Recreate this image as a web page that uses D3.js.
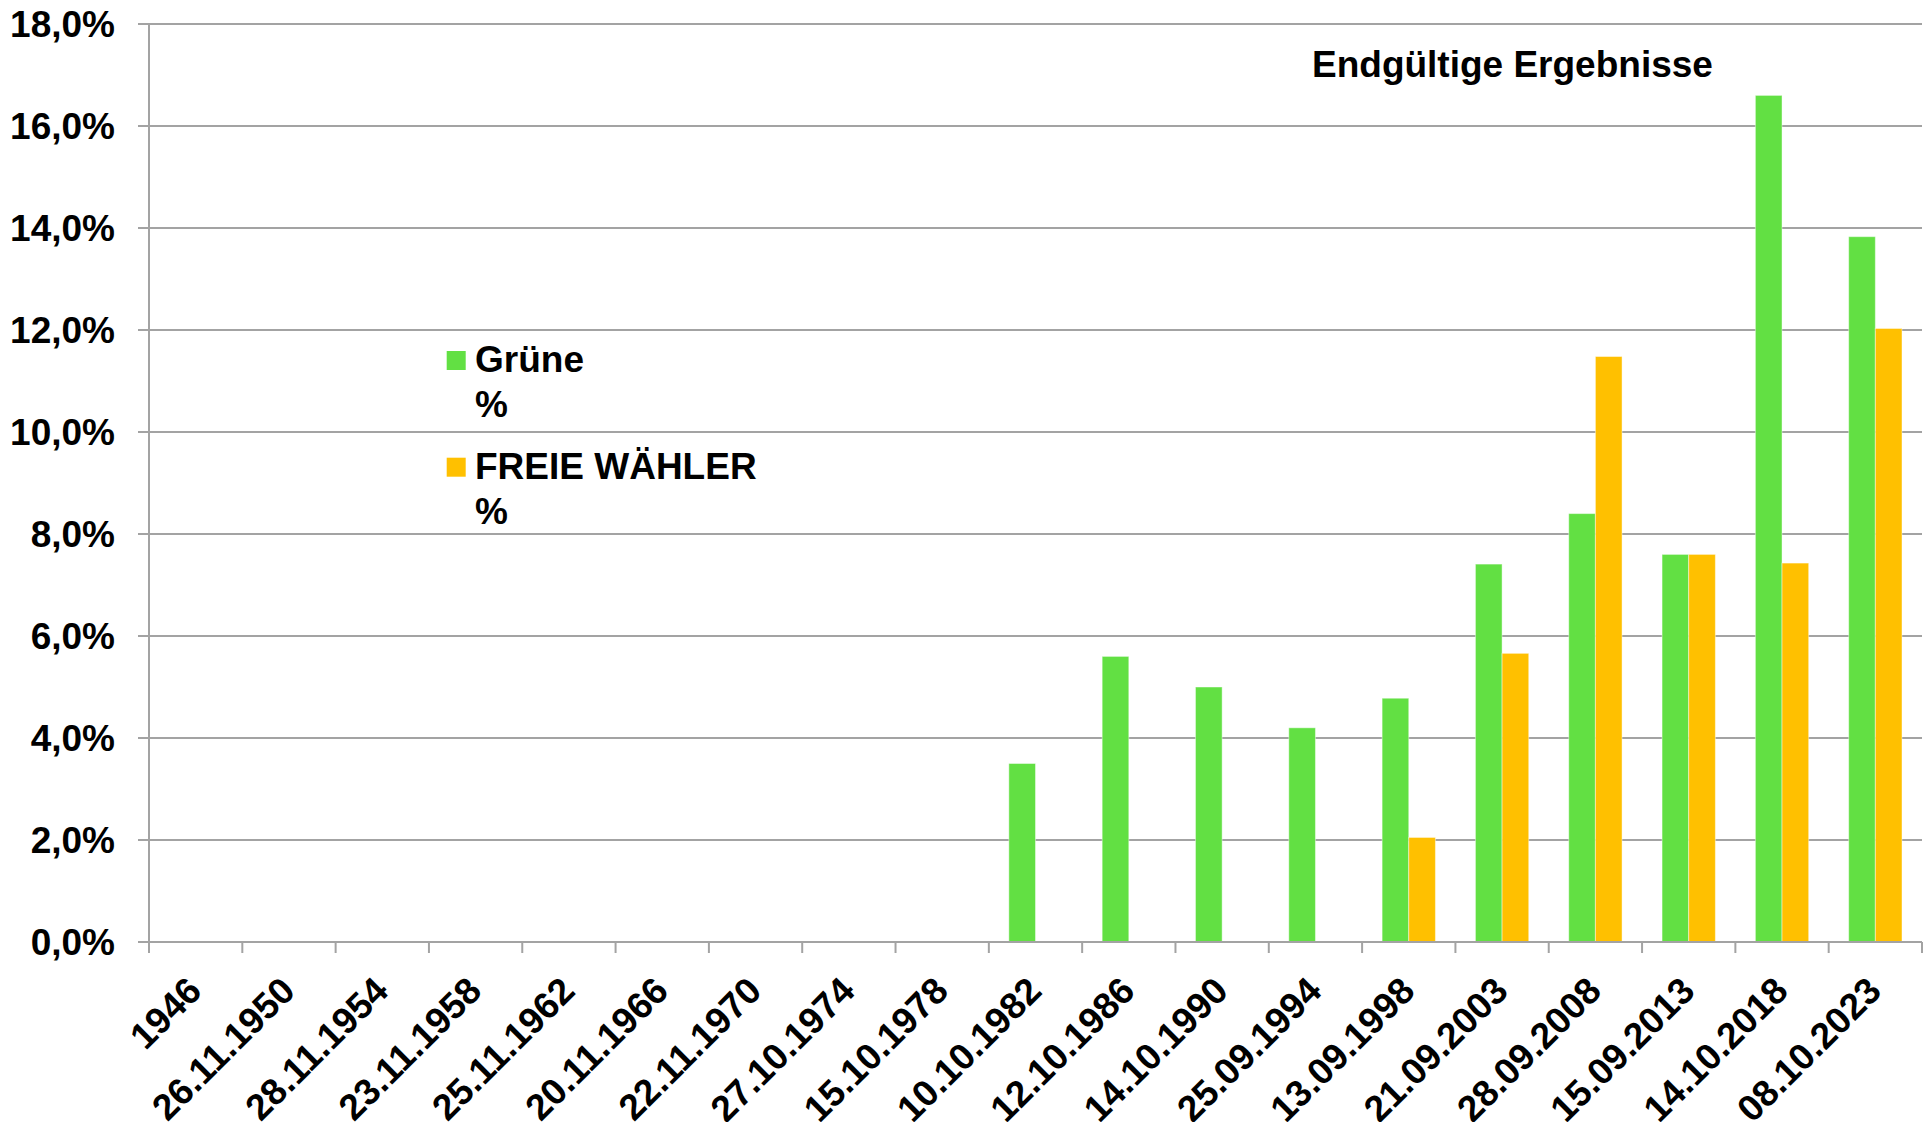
<!DOCTYPE html>
<html>
<head>
<meta charset="utf-8">
<script src="https://cdn.jsdelivr.net/npm/d3@7"></script>
<style>
  html, body { margin: 0; padding: 0; background: #fff; }
  svg { display: block; }
  text { font-family: "Liberation Sans", Arial, sans-serif; font-weight: bold; fill: #000; }
</style>
</head>
<body>
<script>
const categories = ["1946","26.11.1950","28.11.1954","23.11.1958","25.11.1962","20.11.1966","22.11.1970","27.10.1974","15.10.1978","10.10.1982","12.10.1986","14.10.1990","25.09.1994","13.09.1998","21.09.2003","28.09.2008","15.09.2013","14.10.2018","08.10.2023"];
const gruene = [null,null,null,null,null,null,null,null,null,3.5,5.6,5.0,4.2,4.78,7.41,8.4,7.6,16.6,13.83];
const freieWaehler = [null,null,null,null,null,null,null,null,null,null,null,null,null,2.05,5.66,11.48,7.6,7.43,12.03];
const seriesNames = ["Grüne\n%", "FREIE WÄHLER\n%"];
const seriesColors = ["#62e043", "#ffc000"];
const yTicks = [0,2,4,6,8,10,12,14,16,18];
const yTickLabels = ["0,0%","2,0%","4,0%","6,0%","8,0%","10,0%","12,0%","14,0%","16,0%","18,0%"];
const chartTitle = "Endgültige Ergebnisse";

const W = 1927, H = 1122;
const plot = {left: 149, right: 1922, top: 24, bottom: 942};

const svg = d3.select("body").append("svg").attr("width", W).attr("height", H);

const x = d3.scaleBand().domain(categories).range([plot.left, plot.right]).paddingInner(0).paddingOuter(0);
const xs = d3.scaleBand().domain([0,1]).range([0, x.bandwidth()]).paddingInner(0).paddingOuter(0.75);
const y = d3.scaleLinear().domain([0, 18]).range([plot.bottom, plot.top]);

// gridlines
svg.append("g").selectAll("line").data(yTicks.filter(d => d > 0)).join("line")
  .attr("x1", plot.left - 11).attr("x2", plot.right)
  .attr("y1", d => y(d)).attr("y2", d => y(d))
  .attr("stroke", "#a3a3a3").attr("stroke-width", 2);

// y-axis line and ticks
svg.append("line").attr("x1", plot.left).attr("x2", plot.left).attr("y1", plot.top).attr("y2", plot.bottom + 11)
  .attr("stroke", "#a3a3a3").attr("stroke-width", 2);
svg.append("line").attr("x1", plot.left - 11).attr("x2", plot.left).attr("y1", y(0)).attr("y2", y(0))
  .attr("stroke", "#a3a3a3").attr("stroke-width", 2);

// y labels
svg.append("g").selectAll("text").data(yTicks).join("text")
  .attr("x", 115).attr("y", d => y(d)).attr("dy", "0.36em")
  .attr("text-anchor", "end").attr("font-size", 37)
  .text((d, i) => yTickLabels[i]);

// bars
const seriesData = [gruene, freieWaehler];
seriesData.forEach((vals, si) => {
  svg.append("g").selectAll("rect")
    .data(categories.map((c, i) => ({c, v: vals[i]})).filter(d => d.v != null))
    .join("rect")
    .attr("x", d => x(d.c) + xs(si))
    .attr("width", xs.bandwidth())
    .attr("y", d => y(d.v))
    .attr("height", d => y(0) - y(d.v))
    .attr("fill", seriesColors[si])
    .attr("stroke", "rgba(255,255,255,0.45)").attr("stroke-width", 1);
});

// x-axis line and ticks
svg.append("line").attr("x1", plot.left).attr("x2", plot.right).attr("y1", y(0)).attr("y2", y(0))
  .attr("stroke", "#a3a3a3").attr("stroke-width", 2);
const tickPos = categories.map(c => x(c)).concat([plot.right]);
svg.append("g").selectAll("line").data(tickPos).join("line")
  .attr("x1", d => d).attr("x2", d => d).attr("y1", y(0)).attr("y2", y(0) + 11)
  .attr("stroke", "#a3a3a3").attr("stroke-width", 2);

// x labels
svg.append("g").selectAll("text").data(categories).join("text")
  .attr("transform", d => `translate(${x(d) + x.bandwidth()/2 + 8},${y(0) + 51}) rotate(-45)`)
  .attr("text-anchor", "end").attr("font-size", 37)
  .text(d => d);

// title
svg.append("text").attr("x", 1312).attr("y", 77).attr("font-size", 37).text(chartTitle);

// legend
const legend = svg.append("g");
const legendTop = [351, 457.7];
seriesNames.forEach((name, i) => {
  legend.append("rect").attr("x", 446.7).attr("y", legendTop[i]).attr("width", 19).attr("height", 19)
    .attr("fill", seriesColors[i]);
  const lines = name.split("\n");
  const t = legend.append("text").attr("x", 475).attr("y", legendTop[i] + 21).attr("font-size", 37);
  lines.forEach((ln, j) => {
    t.append("tspan").attr("x", 475).attr("dy", j === 0 ? 0 : 45).text(ln);
  });
});
</script>
</body>
</html>
